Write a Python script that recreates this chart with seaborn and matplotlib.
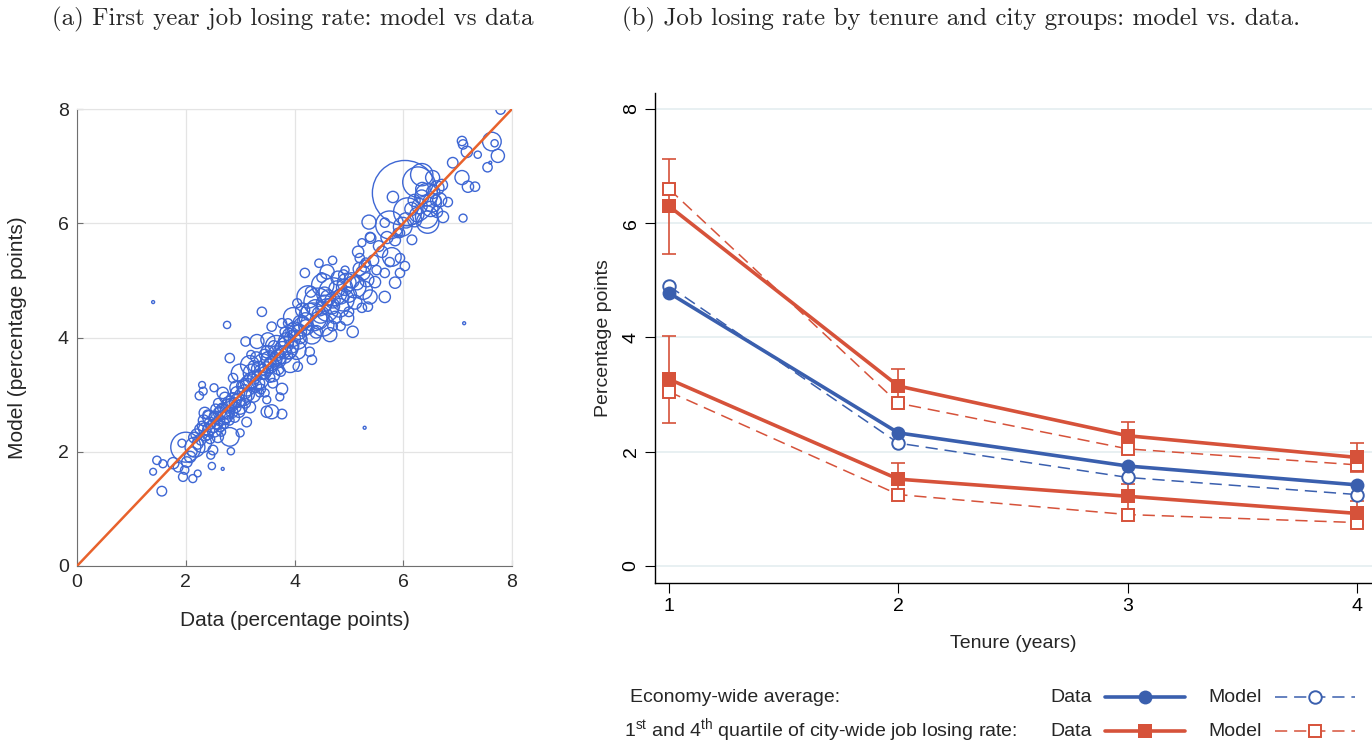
import matplotlib
matplotlib.use("Agg")
import pandas as pd
import matplotlib.pyplot as plt
from matplotlib.lines import Line2D
import seaborn as sns

# ---- panel (a): city level first-year job losing rate, data vs model ----
city_data = [
    1.40, 5.29, 7.12, 2.68, 7.60,
    1.56, 1.40, 1.47, 1.58, 1.77, 1.86, 1.95, 2.13, 2.22, 1.98, 2.02, 2.08, 2.00, 1.93, 2.17,
    2.30, 2.25, 2.32, 2.30, 2.35, 2.44, 2.57, 2.48, 2.81, 2.83, 2.50, 2.46, 2.59, 2.63, 3.12,
    3.00, 3.49, 3.36, 2.76, 2.52, 2.81,
    2.20, 2.28, 2.35, 2.40, 2.45, 2.52, 2.55, 2.62, 2.68, 2.70, 2.75, 2.78, 2.85, 2.88, 2.92,
    2.95, 2.60, 2.72, 2.65, 2.40, 2.30, 2.15, 2.25, 2.55, 2.80, 2.90, 2.98,
    3.05, 3.24, 3.46, 3.49, 3.77, 3.73, 2.81, 3.00, 2.67, 3.18, 3.58, 3.77, 3.00, 3.22, 3.36,
    3.60, 2.87, 2.94, 3.12, 2.68, 3.10, 3.31, 3.51, 3.67, 3.86, 4.06, 4.04, 4.28, 4.32, 3.18,
    3.42, 3.64, 3.92, 4.06, 3.40, 3.58, 3.77, 3.82, 3.15, 3.28, 3.35, 3.45, 3.55, 3.70, 3.80,
    3.85, 3.95, 3.50, 3.30, 3.05, 3.60, 3.70, 3.90, 4.00,
    4.19, 4.60, 4.80, 4.93, 4.96, 5.26, 5.33, 5.48, 4.52, 4.71, 5.11, 5.26, 5.39, 4.25, 4.43,
    4.89, 5.11, 5.24, 5.35, 4.83, 4.60, 4.96, 4.15, 3.97, 4.34, 4.52, 4.15, 3.97, 5.07, 4.65,
    4.32, 5.66, 5.85, 4.45, 4.70, 4.20, 4.10, 4.40, 4.75, 5.00, 4.55, 4.45, 4.70, 4.05,
    5.39, 5.24, 5.17, 5.20, 5.31, 5.61, 5.79, 5.75, 5.94, 6.03, 6.16, 5.94, 5.51, 5.66, 5.94,
    5.40, 5.37, 5.75, 5.99, 5.66, 5.90, 5.81, 6.03, 6.27, 6.34, 6.54, 6.43, 6.62, 6.71, 6.53,
    6.67, 6.82, 6.34, 6.08, 6.21, 6.43, 6.45, 6.73, 6.62, 6.30, 6.50,
    7.10, 6.91, 7.08, 7.19, 7.32, 7.37, 7.55, 7.79, 7.08, 7.10, 7.17, 7.63, 7.68, 7.74,
    2.33, 2.42, 2.50, 2.58, 2.62, 2.70, 2.78, 2.84, 2.90, 2.96, 2.52, 2.45, 2.36, 2.22, 2.12,
    3.08, 3.14, 3.20, 3.26, 3.32, 3.40, 3.48, 3.52, 3.58, 3.66, 3.72, 3.78, 3.84, 3.90, 3.96,
    3.25, 3.45, 3.62, 3.10, 3.38, 3.55, 3.75, 3.20, 3.88,
    4.08, 4.12, 4.22, 4.28, 4.38, 4.48, 4.55, 4.62, 4.68, 4.78, 4.85, 4.92, 5.05, 5.15, 5.20,
    5.30, 5.45, 4.30, 4.50, 4.90, 4.70, 5.00, 4.85,
    5.55, 5.70, 5.85, 6.05, 6.15, 6.25, 6.35, 6.55, 6.60, 6.20,
]
city_model = [
    4.62, 2.42, 4.25, 1.70, 7.06,
    1.31, 1.65, 1.85, 1.79, 1.80, 1.73, 1.56, 1.53, 1.62, 1.68, 1.82, 1.91, 2.08, 2.15, 2.08,
    2.15, 2.98, 3.06, 3.17, 2.68, 2.60, 2.50, 1.75, 2.26, 2.01, 2.03, 1.94, 2.26, 2.45, 2.52,
    2.33, 2.70, 3.03, 4.22, 3.12, 3.64,
    2.30, 2.20, 2.40, 2.30, 2.50, 2.38, 2.60, 2.55, 2.70, 2.50, 2.62, 2.80, 2.70, 2.90, 2.78,
    3.02, 2.85, 2.95, 2.35, 2.65, 2.45, 2.25, 2.40, 2.75, 2.55, 2.60, 2.70,
    2.96, 2.99, 3.03, 2.91, 3.10, 2.96, 2.85, 2.78, 2.77, 2.78, 2.70, 2.66, 3.38, 3.38, 3.26,
    3.35, 3.29, 3.12, 3.13, 3.03, 3.93, 3.93, 3.96, 3.84, 3.82, 3.96, 3.78, 3.75, 3.61, 3.52,
    3.55, 3.61, 3.55, 3.49, 4.45, 4.19, 4.25, 4.10, 3.20, 3.15, 3.45, 3.38, 3.50, 3.65, 3.70,
    3.95, 3.85, 3.75, 3.65, 3.15, 3.20, 3.45, 4.05, 4.15,
    5.13, 5.15, 5.04, 5.18, 4.96, 5.13, 5.01, 4.97, 4.92, 4.80, 4.89, 4.83, 4.71, 4.71, 4.62,
    4.66, 4.62, 4.52, 4.54, 4.52, 4.48, 4.34, 4.48, 4.36, 4.36, 4.22, 4.19, 4.13, 4.10, 4.05,
    4.05, 4.71, 4.96, 4.30, 4.65, 4.30, 4.00, 4.10, 4.35, 4.75, 4.75, 5.30, 5.35, 4.60,
    5.76, 5.66, 5.50, 5.39, 5.31, 5.50, 5.41, 5.32, 5.39, 5.25, 5.71, 5.83, 5.18, 5.13, 5.13,
    5.74, 6.02, 5.97, 5.94, 6.01, 5.83, 6.46, 6.53, 6.72, 6.85, 6.80, 6.50, 6.62, 6.67, 6.36,
    6.41, 6.37, 6.46, 6.20, 6.06, 6.11, 6.02, 6.11, 6.20, 6.30, 6.25,
    6.09, 7.06, 6.80, 6.64, 6.64, 7.20, 6.98, 7.99, 7.44, 7.38, 7.25, 7.43, 7.40, 7.18,
    2.55, 2.38, 2.45, 2.48, 2.68, 2.60, 2.68, 2.82, 2.85, 2.90, 2.62, 2.22, 2.28, 2.14, 2.00,
    3.05, 3.00, 3.25, 3.30, 3.20, 3.40, 3.45, 3.62, 3.55, 3.72, 3.60, 3.78, 3.88, 3.75, 3.98,
    3.50, 3.70, 3.85, 2.85, 3.10, 3.30, 3.40, 3.70, 4.25,
    4.10, 4.25, 4.18, 4.45, 4.52, 4.40, 4.60, 4.70, 4.55, 4.85, 4.72, 4.88, 5.00, 4.95, 5.20,
    5.25, 5.35, 4.80, 5.05, 5.10, 4.20, 4.45, 4.20,
    5.60, 5.75, 5.70, 6.05, 6.25, 6.15, 6.60, 6.55, 6.40, 6.40,
]
city_weight = [
    1.5, 1.5, 1.5, 1.5, 1.5,
    16, 8, 12, 11, 22, 16, 14, 11, 8, 12, 19, 22, 155, 11, 68,
    60, 12, 11, 8, 22, 34, 22, 9, 60, 9, 16, 11, 22, 22, 16,
    11, 22, 11, 9, 11, 15,
    22, 16, 27, 19, 24, 34, 27, 19, 40, 19, 27, 34, 24, 40, 19,
    34, 16, 19, 14, 14, 16, 19, 14, 16, 16, 16, 22,
    54, 34, 11, 11, 22, 11, 34, 34, 15, 22, 34, 16, 54, 54, 54,
    34, 15, 34, 54, 22, 15, 34, 34, 86, 86, 60, 60, 15, 15, 60,
    60, 34, 60, 15, 15, 15, 15, 15, 40, 27, 40, 27, 34, 40, 54,
    40, 34, 27, 22, 27, 16, 22, 27, 34,
    15, 34, 34, 11, 60, 34, 34, 22, 86, 135, 86, 60, 34, 86, 135,
    86, 34, 15, 15, 60, 86, 34, 34, 60, 135, 86, 60, 34, 22, 34,
    60, 22, 22, 54, 40, 40, 27, 27, 27, 40, 40, 12, 12, 14,
    15, 11, 22, 15, 15, 22, 60, 15, 15, 15, 16, 15, 15, 15, 15,
    19, 34, 135, 60, 15, 15, 22, 730, 160, 86, 34, 86, 34, 22, 60,
    34, 15, 34, 135, 34, 86, 86, 22, 22, 40, 40,
    11, 19, 34, 22, 15, 9, 15, 15, 15, 15, 22, 60, 9, 30,
    20, 25, 30, 20, 25, 35, 25, 30, 20, 35, 16, 14, 18, 20, 16,
    35, 30, 40, 30, 35, 40, 35, 40, 35, 40, 30, 50, 40, 35, 45,
    20, 20, 20, 16, 16, 16, 14, 12, 14,
    40, 45, 40, 50, 45, 50, 45, 40, 45, 45, 40, 45, 40, 30, 30,
    25, 20, 20, 16, 16, 16, 16, 14,
    20, 25, 20, 40, 30, 35, 30, 30, 20, 25,
]
diag = [0, 8]

# ---- panel (b): job losing rate by tenure ----
tenure = [1, 2, 3, 4]
econ_data = [4.78, 2.33, 1.75, 1.42]
econ_model = [4.90, 2.15, 1.55, 1.25]
q4_data = [6.30, 3.15, 2.28, 1.90]
q4_model = [6.60, 2.85, 2.05, 1.77]
q4_err = [0.83, 0.30, 0.24, 0.25]
q1_data = [3.27, 1.52, 1.22, 0.92]
q1_model = [3.05, 1.25, 0.90, 0.76]
q1_err = [0.76, 0.28, 0.22, 0.21]

sns.set_style("white")
plt.rcParams['font.family'] = ['Liberation Sans', 'DejaVu Sans']
plt.rcParams['mathtext.fontset'] = 'custom'
plt.rcParams['mathtext.rm'] = 'Liberation Sans'

BLUE_A = "#3e67d4"
ORANGE = "#e8622c"
BLUE = "#3a5fae"
RED = "#d6523a"
W, H = 1372, 743


def fx(px):
    return px / W


def fy(py):
    return 1 - py / H


fig = plt.figure(figsize=(13.72, 7.43), dpi=100)
ax1 = fig.add_axes([fx(77), fy(566), 435 / W, 457 / H])
ax2 = fig.add_axes([fx(655), fy(583), 717 / W, 490 / H])

# panel (a)
city = pd.DataFrame({"data": city_data, "model": city_model, "weight": city_weight})
K = 3.0
wmin, wmax = min(city_weight), max(city_weight)
sns.scatterplot(data=city, x="data", y="model", size="weight",
                sizes=(K * wmin, K * wmax), size_norm=(wmin, wmax),
                facecolor="none", edgecolor=BLUE_A, linewidth=1.0,
                legend=False, ax=ax1, zorder=2)
ax1.plot(diag, diag, color=ORANGE, lw=1.8, zorder=3)
ax1.set_xlim(0, 8)
ax1.set_ylim(0, 8)
ax1.set_xticks([0, 2, 4, 6, 8])
ax1.set_yticks([0, 2, 4, 6, 8])
ax1.grid(True, color="#e4e4e4", lw=0.9)
ax1.set_axisbelow(True)
for s in ["left", "bottom"]:
    ax1.spines[s].set_color("#6f6f6f")
for s in ["top", "right"]:
    ax1.spines[s].set_color("#e4e4e4")
ax1.tick_params(bottom=True, left=True, direction="in", length=4, color="#6f6f6f",
                labelsize=14, labelcolor="#262626", pad=6)
ax1.set_xlabel("Data (percentage points)", fontsize=15, color="#262626", labelpad=14)
ax1.set_ylabel("Model (percentage points)", fontsize=15, color="#262626", labelpad=22)

# panel (b)
ax2.errorbar(tenure, q4_data, yerr=q4_err, fmt="none", ecolor=RED, elinewidth=1.2,
             capsize=5, capthick=1.2, zorder=1)
ax2.errorbar(tenure, q1_data, yerr=q1_err, fmt="none", ecolor=RED, elinewidth=1.2,
             capsize=5, capthick=1.2, zorder=1)
dash = (0, (8, 4.5))
for model, col, mk, ms in [(econ_model, BLUE, "o", 9), (q4_model, RED, "s", 9),
                           (q1_model, RED, "s", 9)]:
    sns.lineplot(x=tenure, y=model, ax=ax2, color=col, lw=1.1, linestyle=dash,
                 marker=mk, markersize=ms, markerfacecolor="white",
                 markeredgecolor=col, markeredgewidth=1.4, zorder=2)
for dat, col, mk, ms in [(econ_data, BLUE, "o", 10), (q4_data, RED, "s", 10.5),
                         (q1_data, RED, "s", 10.5)]:
    sns.lineplot(x=tenure, y=dat, ax=ax2, color=col, lw=2.6, marker=mk,
                 markersize=ms, markeredgecolor=col, markeredgewidth=0, zorder=3)

ax2.set_xlim(0.939, 4.065)
ax2.set_ylim(-0.298, 8.28)
ax2.set_xticks(tenure)
ax2.set_yticks([0, 2, 4, 6, 8])
ax2.yaxis.grid(True, color="#e6eff1", lw=1.3)
ax2.set_axisbelow(True)
ax2.spines["top"].set_visible(False)
ax2.spines["right"].set_visible(False)
for s in ["left", "bottom"]:
    ax2.spines[s].set_color("black")
    ax2.spines[s].set_linewidth(1.0)
ax2.tick_params(bottom=True, left=True, direction="out", length=7, color="black",
                labelsize=14, labelcolor="black", pad=4)
plt.setp(ax2.get_yticklabels(), rotation=90, va="center")
ax2.set_xlabel("Tenure (years)", fontsize=14, labelpad=14)
ax2.set_ylabel("Percentage points", fontsize=14, labelpad=8)

# titles
fig.text(fx(52), fy(19), "(a) First year job losing rate: model vs data",
         family="cmr10", fontsize=18, va="center")
fig.text(fx(622), fy(19), "(b) Job losing rate by tenure and city groups: model vs. data.",
         family="cmr10", fontsize=18, va="center")

# legend
rows = [(697, "Economy-wide average:", BLUE, "o", 630),
        (731, "1$^{\\mathrm{st}}$ and 4$^{\\mathrm{th}}$ quartile of city-wide job losing rate:",
         RED, "s", 624)]
for py, label, col, mk, x0 in rows:
    fig.text(fx(x0), fy(py), label, fontsize=14, va="center")
    fig.text(fx(1050), fy(py), "Data", fontsize=14, va="center")
    fig.text(fx(1208), fy(py), "Model", fontsize=14, va="center")
    fig.add_artist(Line2D([fx(1105), fx(1185)], [fy(py), fy(py)], color=col, lw=2.6,
                          transform=fig.transFigure))
    fig.add_artist(Line2D([fx(1145)], [fy(py)], color=col, marker=mk, markersize=10,
                          markeredgewidth=0, transform=fig.transFigure))
    fig.add_artist(Line2D([fx(1275), fx(1355)], [fy(py), fy(py)], color=col, lw=1.1,
                          linestyle=dash, transform=fig.transFigure))
    fig.add_artist(Line2D([fx(1315)], [fy(py)], color=col, marker=mk, markersize=9,
                          markerfacecolor="white", markeredgewidth=1.4,
                          transform=fig.transFigure))

fig.savefig("out.png", dpi=100)
